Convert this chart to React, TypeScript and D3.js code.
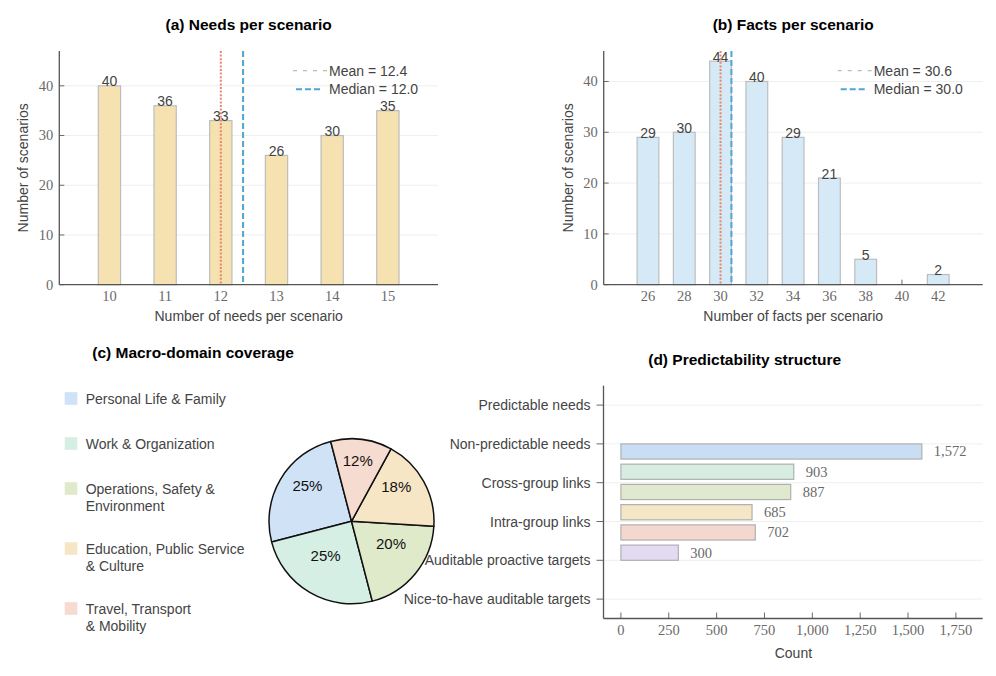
import React, { useEffect } from 'react';
import * as d3 from 'd3';

// (a) needs per scenario
const needsX = [10, 11, 12, 13, 14, 15];
const needsCount = [40, 36, 33, 26, 30, 35];
const needsMean = 12.4;
const needsMedian = 12.0;

// (b) facts per scenario
const factsX = [26, 28, 30, 32, 34, 36, 38, 40, 42];
const factsCount = [29, 30, 44, 40, 29, 21, 5, 0, 2];
const factsMean = 30.6;
const factsMedian = 30.0;

// (c) macro-domain shares
const domainLabels = [
  ['Personal Life & Family'],
  ['Work & Organization'],
  ['Operations, Safety &', 'Environment'],
  ['Education, Public Service', '& Culture'],
  ['Travel, Transport', '& Mobility'],
];
const domainShares = [25, 25, 20, 18, 12];
const domainColors = ['#cfe2f6', '#d6efe5', '#dfeacb', '#f6e6c6', '#f6dbd0'];

// (d) predictability structure
const predLabels = [
  'Predictable needs',
  'Non-predictable needs',
  'Cross-group links',
  'Intra-group links',
  'Auditable proactive targets',
  'Nice-to-have auditable targets',
];
const predValues = [1572, 903, 887, 685, 702, 300];
const predColors = ['#c9def4', '#d7ede2', '#dfe9cd', '#f5e6c5', '#f5d8cd', '#e2dbf2'];
const predTicks = [0, 250, 500, 750, 1000, 1250, 1500, 1750];

const SANS = '"Liberation Sans", Arial, Helvetica, sans-serif';
const SERIF = '"Liberation Serif", "DejaVu Serif", serif';
const AXIS = '#555';
const GRID = '#efefef';
const LABEL = '#444';
const TICK = '#6a6a6a';
const TICK_SIZE = 14.5;

type HistProps = {
  left: number;
  right: number;
  top: number;
  bottom: number;
  xs: number[];
  counts: number[];
  xDomain: [number, number];
  yMax: number;
  barWidth: number;
  fill: string;
  mean: number;
  median: number;
  title: string;
  xLabel: string;
  yLabelX: number;
};

function HistPanel(p: HistProps) {
  const x = d3.scaleLinear().domain(p.xDomain).range([p.left, p.right]);
  const y = d3.scaleLinear().domain([0, p.yMax]).range([p.bottom, p.top]);
  const yTicks = [0, 10, 20, 30, 40];
  const cx = (p.left + p.right) / 2;
  const legX = p.right - 109;
  return (
    <g>
      <text x={cx} y={30} textAnchor="middle" fontFamily={SANS} fontWeight="bold" fontSize={15.5} fill="#000">
        {p.title}
      </text>
      {yTicks.map((t) => (
        <g key={t}>
          {t > 0 && <line x1={p.left} x2={p.right} y1={y(t)} y2={y(t)} stroke={GRID} strokeWidth={1} />}
          <line x1={p.left} x2={p.left + 5} y1={y(t)} y2={y(t)} stroke={TICK} strokeWidth={1} />
          <text x={p.left - 6} y={y(t) + 4.8} textAnchor="end" fontFamily={SERIF} fontSize={TICK_SIZE} fill={TICK}>
            {t}
          </text>
        </g>
      ))}
      {p.xs.map((v) => (
        <g key={v}>
          <line x1={x(v)} x2={x(v)} y1={p.bottom} y2={p.bottom - 5} stroke={TICK} strokeWidth={1} />
          <text x={x(v)} y={p.bottom + 16} textAnchor="middle" fontFamily={SERIF} fontSize={TICK_SIZE} fill={TICK}>
            {v}
          </text>
        </g>
      ))}
      {p.xs.map((v, i) =>
        p.counts[i] > 0 ? (
          <g key={'b' + v}>
            <rect
              x={x(v - p.barWidth / 2)}
              y={y(p.counts[i])}
              width={x(v + p.barWidth / 2) - x(v - p.barWidth / 2)}
              height={p.bottom - y(p.counts[i])}
              fill={p.fill}
              stroke="#bdbdbd"
              strokeWidth={1.2}
            />
            <text x={x(v)} y={y(p.counts[i]) + 0.5} textAnchor="middle" fontFamily={SANS} fontSize={14} fill={LABEL}>
              {p.counts[i]}
            </text>
          </g>
        ) : null
      )}
      <line x1={x(p.median)} x2={x(p.median)} y1={p.top} y2={p.bottom} stroke="#e8856d" strokeWidth={2} strokeDasharray="2,1.6" />
      <line x1={x(p.mean)} x2={x(p.mean)} y1={p.top} y2={p.bottom} stroke="#4ea7d1" strokeWidth={2} strokeDasharray="6,3" />
      <line x1={p.left} x2={p.left} y1={p.top} y2={p.bottom} stroke={AXIS} strokeWidth={1.3} />
      <line x1={p.left} x2={p.right} y1={p.bottom} y2={p.bottom} stroke={AXIS} strokeWidth={1.3} />
      <line x1={legX - 36} x2={legX - 2} y1={70.7} y2={70.7} stroke="#aaa" strokeWidth={1} strokeDasharray="4,6" />
      <text x={legX} y={75.7} fontFamily={SANS} fontSize={14} fill={LABEL}>
        Mean = {p.mean.toFixed(1)}
      </text>
      <line x1={legX - 33} x2={legX - 7} y1={89.3} y2={89.3} stroke="#4ea7d1" strokeWidth={2} strokeDasharray="6,3" />
      <text x={legX} y={94.3} fontFamily={SANS} fontSize={14} fill={LABEL}>
        Median = {p.median.toFixed(1)}
      </text>
      <text x={cx} y={321} textAnchor="middle" fontFamily={SANS} fontSize={14} fill={LABEL}>
        {p.xLabel}
      </text>
      <text
        transform={`translate(${p.yLabelX},${(p.top + p.bottom) / 2}) rotate(-90)`}
        textAnchor="middle"
        dominantBaseline="central"
        fontFamily={SANS}
        fontSize={14}
        fill={LABEL}
      >
        Number of scenarios
      </text>
    </g>
  );
}

function PiePanel() {
  const cx = 351.5;
  const cy = 521.3;
  const r = 82.5;
  const start = (-14.6 * Math.PI) / 180;
  const pie = d3
    .pie<number>()
    .sort(null)
    .value((d) => d)
    .startAngle(start)
    .endAngle(start - 2 * Math.PI);
  const arcs = pie(domainShares);
  const arc = d3.arc<d3.PieArcDatum<number>>().innerRadius(0).outerRadius(r);
  const labelArc = d3.arc<d3.PieArcDatum<number>>().innerRadius(r * 0.62).outerRadius(r * 0.62);

  // legend rows: taller entries for two-line labels
  const rows: number[] = [];
  let yy = 398.7;
  domainLabels.forEach((lines) => {
    rows.push(yy);
    yy += 30 + 15 * lines.length;
  });

  return (
    <g>
      <text x={193} y={358} textAnchor="middle" fontFamily={SANS} fontWeight="bold" fontSize={15.5} fill="#000">
        (c) Macro-domain coverage
      </text>
      {domainLabels.map((lines, i) => (
        <g key={i}>
          <rect x={64.7} y={rows[i] - 6.5} width={12.6} height={12.6} fill={domainColors[i]} />
          {lines.map((ln, j) => (
            <text key={j} x={85.7} y={rows[i] + 5 + j * 17} fontFamily={SANS} fontSize={14} fill={LABEL}>
              {ln}
            </text>
          ))}
        </g>
      ))}
      <g transform={`translate(${cx},${cy})`}>
        {arcs.map((a, i) => (
          <path key={i} d={arc(a) || ''} fill={domainColors[i]} stroke="#111" strokeWidth={1.5} strokeLinejoin="round" />
        ))}
        {arcs.map((a, i) => {
          const [lx, ly] = labelArc.centroid(a);
          return (
            <text key={'t' + i} x={lx} y={ly - 10} textAnchor="middle" dominantBaseline="central" fontFamily={SANS} fontSize={15} fill="#111">
              {domainShares[i]}%
            </text>
          );
        })}
      </g>
    </g>
  );
}

function PredPanel() {
  const left = 603.5;
  const right = 982.7;
  const top = 385.7;
  const bottom = 618.5;
  const x = d3.scaleLinear().domain([-91, 1890]).range([left, right]);
  const y = d3.scalePoint<string>().domain(predLabels).range([top, bottom]).padding(0.5);
  const band = d3
    .scaleBand<number>()
    .domain(predValues.map((_, i) => i))
    .range([y(predLabels[1]) ?? 0, y(predLabels[4]) ?? 0])
    .paddingInner(0.25)
    .paddingOuter(0);
  const fmt = d3.format(',');
  return (
    <g>
      <text x={744.7} y={364.5} textAnchor="middle" fontFamily={SANS} fontWeight="bold" fontSize={15.5} fill="#000">
        (d) Predictability structure
      </text>
      {predLabels.map((lab) => (
        <g key={lab}>
          <line x1={left} x2={right} y1={y(lab)} y2={y(lab)} stroke={GRID} strokeWidth={1} />
          <line x1={left - 7} x2={left} y1={y(lab)} y2={y(lab)} stroke={TICK} strokeWidth={1} />
          <text x={left - 13} y={(y(lab) ?? 0) + 5} textAnchor="end" fontFamily={SANS} fontSize={14} fill={LABEL}>
            {lab}
          </text>
        </g>
      ))}
      {predValues.map((v, i) => (
        <g key={i}>
          <rect
            x={x(0)}
            y={band(i)}
            width={x(v) - x(0)}
            height={band.bandwidth()}
            fill={predColors[i]}
            stroke="#b0b0b0"
            strokeWidth={1.2}
          />
          <text
            x={x(v) + 12}
            y={(band(i) ?? 0) + band.bandwidth() / 2}
            dominantBaseline="central"
            fontFamily={SERIF}
            fontSize={TICK_SIZE}
            fill={TICK}
          >
            {fmt(v)}
          </text>
        </g>
      ))}
      {predTicks.map((t) => (
        <g key={t}>
          <line x1={x(t)} x2={x(t)} y1={bottom} y2={bottom - 6} stroke={TICK} strokeWidth={1} />
          <text x={x(t)} y={bottom + 16} textAnchor="middle" fontFamily={SERIF} fontSize={TICK_SIZE} fill={TICK}>
            {fmt(t)}
          </text>
        </g>
      ))}
      <line x1={left} x2={left} y1={top} y2={bottom} stroke={AXIS} strokeWidth={1.3} />
      <line x1={left} x2={right} y1={bottom} y2={bottom} stroke={AXIS} strokeWidth={1.3} />
      <text x={793.4} y={658} textAnchor="middle" fontFamily={SANS} fontSize={14} fill={LABEL}>
        Count
      </text>
    </g>
  );
}

export default function App() {
  useEffect(() => {
    document.body.style.margin = '0';
  }, []);
  return (
    <svg width={996} height={676} style={{ display: 'block', background: '#fff' }}>
      <rect width={996} height={676} fill="#fff" />
      <HistPanel
        left={59.3}
        right={438}
        top={51}
        bottom={284.7}
        xs={needsX}
        counts={needsCount}
        xDomain={[9.1, 15.9]}
        yMax={47}
        barWidth={0.4}
        fill="#f6e2b1"
        mean={needsMean}
        median={needsMedian}
        title="(a) Needs per scenario"
        xLabel="Number of needs per scenario"
        yLabelX={23}
      />
      <HistPanel
        left={603.7}
        right={982.7}
        top={51}
        bottom={284.7}
        xs={factsX}
        counts={factsCount}
        xDomain={[23.56, 44.45]}
        yMax={46}
        barWidth={1.2}
        fill="#d5eaf6"
        mean={factsMean}
        median={factsMedian}
        title="(b) Facts per scenario"
        xLabel="Number of facts per scenario"
        yLabelX={568}
      />
      <PiePanel />
      <PredPanel />
    </svg>
  );
}
